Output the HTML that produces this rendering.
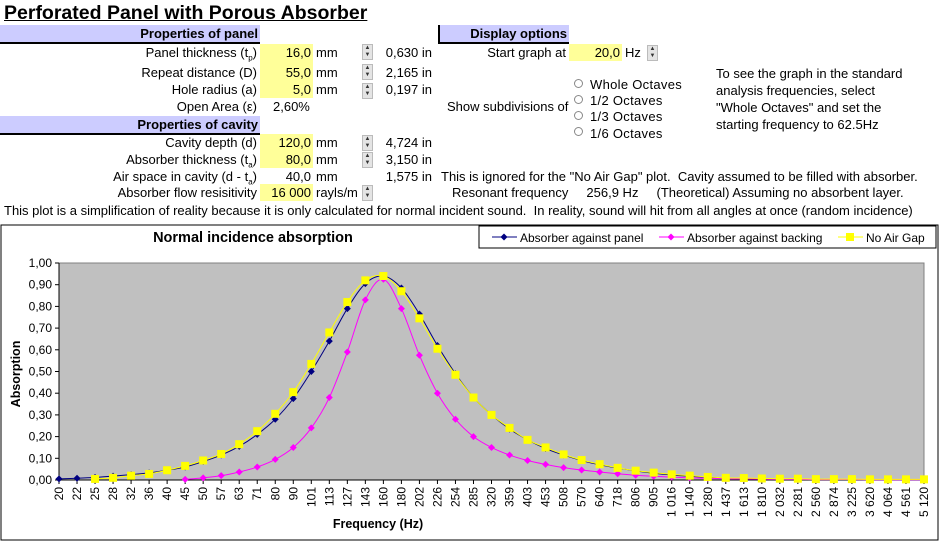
<!DOCTYPE html>
<html><head><meta charset="utf-8"><style>
body{margin:0;width:940px;height:542px;background:#fff;font-family:"Liberation Sans",Arial,sans-serif;font-size:13px;color:#000;position:relative;overflow:hidden}
.a{position:absolute;white-space:nowrap;line-height:16px}
.r{text-align:right}
.band{position:absolute;background:#ccccff;border-bottom:2px solid #000;font-weight:bold;font-size:13px;text-align:right;line-height:17px;box-sizing:border-box;padding-right:2px}
.y{position:absolute;background:#ffff99;text-align:right;line-height:17px;height:17px;padding-right:2px;box-sizing:border-box}
.sp{position:absolute;width:11px;height:16px;background:#e4e4e4;border:1px solid #bbb;box-sizing:border-box;font-size:6px;line-height:7px;text-align:center;color:#333}
.rad{position:absolute;width:9px;height:9px;border:1px solid #888;border-radius:50%;background:#fff;box-sizing:border-box}
</style></head><body>
<div class="a" style="left:4px;top:2px;font-size:19.5px;font-weight:bold;text-decoration:underline;line-height:22px">Perforated Panel with Porous Absorber</div>

<div class="band" style="left:0;top:25px;width:260px;height:19px">Properties of panel</div>
<div class="band" style="left:438px;top:25px;width:131px;height:19px;border-left:2px solid #000">Display options</div>

<div class="a r" style="left:0;width:257px;top:45px">Panel thickness (t<sub style="font-size:8px">p</sub>)</div>
<div class="y" style="left:260px;top:44px;width:53px">16,0</div>
<div class="a" style="left:316px;top:45px">mm</div>
<div class="sp" style="left:362px;top:44px">▲<br>▼</div>
<div class="a r" style="left:372px;width:60px;top:45px">0,630 in</div>

<div class="a r" style="left:0;width:257px;top:65px">Repeat distance (D)</div>
<div class="y" style="left:260px;top:61px;width:53px;height:20px;line-height:24px">55,0</div>
<div class="a" style="left:316px;top:65px">mm</div>
<div class="sp" style="left:362px;top:64px">▲<br>▼</div>
<div class="a r" style="left:372px;width:60px;top:65px">2,165 in</div>

<div class="a r" style="left:0;width:257px;top:82px">Hole radius (a)</div>
<div class="y" style="left:260px;top:81px;width:53px">5,0</div>
<div class="a" style="left:316px;top:82px">mm</div>
<div class="sp" style="left:362px;top:83px">▲<br>▼</div>
<div class="a r" style="left:372px;width:60px;top:82px">0,197 in</div>

<div class="a r" style="left:0;width:257px;top:99px">Open Area (ε)</div>
<div class="a" style="left:273px;top:99px">2,60%</div>

<div class="band" style="left:0;top:116px;width:260px;height:19px">Properties of cavity</div>

<div class="a r" style="left:0;width:257px;top:135px">Cavity depth (d)</div>
<div class="y" style="left:260px;top:134px;width:53px">120,0</div>
<div class="a" style="left:316px;top:135px">mm</div>
<div class="sp" style="left:362px;top:135px">▲<br>▼</div>
<div class="a r" style="left:372px;width:60px;top:135px">4,724 in</div>

<div class="a r" style="left:0;width:257px;top:152px">Absorber thickness (t<sub style="font-size:8px">a</sub>)</div>
<div class="y" style="left:260px;top:151px;width:53px">80,0</div>
<div class="a" style="left:316px;top:152px">mm</div>
<div class="sp" style="left:362px;top:152px">▲<br>▼</div>
<div class="a r" style="left:372px;width:60px;top:152px">3,150 in</div>

<div class="a r" style="left:0;width:257px;top:169px">Air space in cavity (d - t<sub style="font-size:8px">a</sub>)</div>
<div class="a r" style="left:260px;width:51px;top:169px">40,0</div>
<div class="a" style="left:316px;top:169px">mm</div>
<div class="a r" style="left:372px;width:60px;top:169px">1,575 in</div>
<div class="a" style="left:441px;top:169px">This is ignored for the "No Air Gap" plot.&nbsp; Cavity assumed to be filled with absorber.</div>

<div class="a r" style="left:0;width:257px;top:185px">Absorber flow resisitivity</div>
<div class="y" style="left:260px;top:184px;width:53px">16 000</div>
<div class="a" style="left:316px;top:185px">rayls/m</div>
<div class="sp" style="left:362px;top:185px">▲<br>▼</div>
<div class="a" style="left:452px;top:185px">Resonant frequency&nbsp;&nbsp;&nbsp;&nbsp; 256,9 Hz&nbsp;&nbsp;&nbsp;&nbsp; (Theoretical) Assuming no absorbent layer.</div>

<div class="a" style="left:4px;top:203px">This plot is a simplification of reality because it is only calculated for normal incident sound.&nbsp; In reality, sound will hit from all angles at once (random incidence)</div>

<div class="a r" style="left:440px;width:126px;top:45px">Start graph at</div>
<div class="y" style="left:569px;top:44px;width:53px">20,0</div>
<div class="a" style="left:625px;top:45px">Hz</div>
<div class="sp" style="left:647px;top:45px">▲<br>▼</div>

<div class="a" style="left:447px;top:99px">Show subdivisions of</div>
<div class="rad" style="left:574px;top:79px"></div>
<div class="a" style="left:590px;top:77px;letter-spacing:0.3px">Whole Octaves</div>
<div class="rad" style="left:574px;top:95px"></div>
<div class="a" style="left:590px;top:93px;letter-spacing:0.3px">1/2 Octaves</div>
<div class="rad" style="left:574px;top:111px"></div>
<div class="a" style="left:590px;top:109px;letter-spacing:0.3px">1/3 Octaves</div>
<div class="rad" style="left:574px;top:127px"></div>
<div class="a" style="left:590px;top:126px;letter-spacing:0.3px">1/6 Octaves</div>

<div class="a" style="left:716px;top:65px;line-height:17px">To see the graph in the standard<br>analysis frequencies, select<br>"Whole Octaves" and set the<br>starting frequency to 62.5Hz</div>

<svg id="chart" width="940" height="318" style="position:absolute;left:0;top:224px" viewBox="0 224 940 318"></svg>

<script>
const categories=["20","22","25","28","32","36","40","45","50","57","63","71","80","90","101","113","127","143","160","180","202","226","254","285","320","359","403","453","508","570","640","718","806","905","1 016","1 140","1 280","1 437","1 613","1 810","2 032","2 281","2 560","2 874","3 225","3 620","4 064","4 561","5 120"];
const panelValues=[0.005,0.008,0.012,0.018,0.025,0.033,0.045,0.06,0.085,0.115,0.155,0.21,0.28,0.375,0.5,0.64,0.79,0.905,0.94,0.885,0.765,0.62,0.49,0.38,0.3,0.235,0.185,0.145,0.115,0.09,0.07,0.055,0.042,0.031,0.023,0.017,0.012,0.009,0.007,0.005,0.004,0.003,0.003,0.002,0.002,0.002,0.001,0.001,0.001];
const backingValues=[null,null,null,null,null,null,null,0.003,0.01,0.02,0.037,0.06,0.095,0.15,0.24,0.38,0.59,0.83,0.925,0.79,0.575,0.4,0.28,0.2,0.15,0.115,0.09,0.072,0.057,0.046,0.037,0.029,0.022,0.017,0.013,0.01,0.008,0.006,0.005,0.004,0.003,0.003,0.002,0.002,0.002,0.001,0.001,0.001,0.001];
const noGapValues=[null,null,0.005,0.01,0.02,0.028,0.045,0.065,0.09,0.12,0.165,0.225,0.305,0.405,0.535,0.68,0.82,0.92,0.94,0.87,0.745,0.605,0.485,0.38,0.3,0.24,0.185,0.15,0.118,0.092,0.073,0.056,0.043,0.034,0.026,0.02,0.014,0.01,0.009,0.007,0.006,0.006,0.004,0.004,0.004,0.003,0.003,0.003,0.003];
const yTicks=[0,0.1,0.2,0.3,0.4,0.5,0.6,0.7,0.8,0.9,1.0];

const NS="http://www.w3.org/2000/svg";
const svg=document.getElementById('chart');
const X0=59,X1=924,Y0=480,Y1=263;
function xs(i){return X0+(X1-X0)*i/(categories.length-1);}
function ys(v){return Y0-(Y0-Y1)*v;}
function mk(tag,attrs,parent){const e=document.createElementNS(NS,tag);for(const k in attrs)e.setAttribute(k,attrs[k]);(parent||svg).appendChild(e);return e;}

const frame=mk('rect',{x:1,y:225,width:937,height:315,fill:'#fff',stroke:'#000','stroke-width':1});


const plot=mk('rect',{x:X0,y:Y1,width:X1-X0,height:Y0-Y1,fill:'#c0c0c0',stroke:'#808080','stroke-width':1});


const title=mk('text',{x:253,y:242,'text-anchor':'middle','font-size':14.5,'font-weight':'bold','font-family':'Liberation Sans, Arial, sans-serif'});
title.textContent='Normal incidence absorption';



mk('line',{x1:X0,y1:Y1,x2:X0,y2:Y0,stroke:'#000'});
mk('line',{x1:X0,y1:Y0,x2:X1,y2:Y0,stroke:'#000'});
yTicks.forEach(v=>{
  const y=ys(v);
  mk('line',{x1:X0-4,y1:y,x2:X0,y2:y,stroke:'#000'});
  const t=mk('text',{x:X0-7,y:y+4,'text-anchor':'end','font-size':12,'font-family':'Liberation Sans, Arial, sans-serif'});
  t.textContent=v.toFixed(2).replace('.',',');
  
  
});
categories.forEach((c,i)=>{
  const x=xs(i);
  mk('line',{x1:x,y1:Y0,x2:x,y2:Y0+4,stroke:'#000'});
  const t=mk('text',{x:0,y:0,'text-anchor':'end','font-size':12,'font-family':'Liberation Sans, Arial, sans-serif',transform:`translate(${x+4},${Y0+7}) rotate(-90)`});
  t.textContent=c;
  
  
});
const xt=mk('text',{x:378,y:528,'text-anchor':'middle','font-size':12.5,'font-weight':'bold','font-family':'Liberation Sans, Arial, sans-serif'});
xt.textContent='Frequency (Hz)';


const yt=mk('text',{x:0,y:0,'text-anchor':'middle','font-size':12.5,'font-weight':'bold','font-family':'Liberation Sans, Arial, sans-serif',transform:'translate(20,374) rotate(-90)'});
yt.textContent='Absorption';



function smoothPath(vals){
  const pts=[];vals.forEach((v,i)=>{if(v!==null)pts.push([xs(i),ys(v)]);});
  let d=`M${pts[0][0]},${pts[0][1]}`;
  for(let i=0;i<pts.length-1;i++){
    const p0=pts[i-1]||pts[i],p1=pts[i],p2=pts[i+1],p3=pts[i+2]||p2;
    const c1=[p1[0]+(p2[0]-p0[0])/6,p1[1]+(p2[1]-p0[1])/6];
    const c2=[p2[0]-(p3[0]-p1[0])/6,p2[1]-(p3[1]-p1[1])/6];
    d+=` C${c1[0]},${c1[1]} ${c2[0]},${c2[1]} ${p2[0]},${p2[1]}`;
  }
  return d;
}
function diamond(x,y,r,col,g){return mk('polygon',{points:`${x},${y-r} ${x+r},${y} ${x},${y+r} ${x-r},${y}`,fill:col},g);}
function series(vals,col,marker,name){
  const g=mk('g',{});
  
  
  mk('path',{d:smoothPath(vals),fill:'none',stroke:col,'stroke-width':1},g);
  vals.forEach((v,i)=>{
    if(v===null)return;
    const x=xs(i),y=ys(v);
    let m;
    if(marker==='sq')m=mk('rect',{x:x-4,y:y-4,width:8,height:8,fill:col},g);
    else m=diamond(x,y,3.5,col,g);
    
    
  });
}
series(panelValues,'#000080','d','series-absorber-against-panel');
series(backingValues,'#ff00ff','d','series-absorber-against-backing');
series(noGapValues,'#ffff00','sq','series-no-air-gap');

const lg=mk('g',{});


mk('rect',{x:479,y:226,width:457,height:22,fill:'#fff',stroke:'#000'},lg);
[['Absorber against panel','#000080','d',492],['Absorber against backing','#ff00ff','d',659],['No Air Gap','#ffff00','sq',838]].forEach(([lab,col,m,x])=>{
  const e=mk('g',{},lg);
  
  
  mk('line',{x1:x,y1:237,x2:x+25,y2:237,stroke:col},e);
  if(m==='sq')mk('rect',{x:x+8,y:233,width:8,height:8,fill:col},e);else diamond(x+12,237,3.5,col,e);
  const t=mk('text',{x:x+28,y:242,'font-size':12,'font-family':'Liberation Sans, Arial, sans-serif'},e);
  t.textContent=lab;
});
</script>
</body></html>
